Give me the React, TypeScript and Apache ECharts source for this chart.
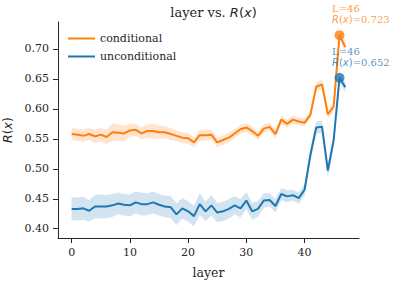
import React, { useEffect, useRef } from "react";
import * as echarts from "echarts";

const layers = [0,1,2,3,4,5,6,7,8,9,10,11,12,13,14,15,16,17,18,19,20,21,22,23,24,25,26,27,28,29,30,31,32,33,34,35,36,37,38,39,40,41,42,43,44,45,46,47];

const condMean = [0.558,0.557,0.555,0.558,0.554,0.557,0.553,0.561,0.560,0.559,0.564,0.565,0.559,0.563,0.563,0.561,0.561,0.558,0.555,0.552,0.551,0.544,0.556,0.556,0.557,0.544,0.548,0.552,0.559,0.566,0.569,0.563,0.555,0.567,0.570,0.558,0.582,0.575,0.582,0.579,0.577,0.590,0.637,0.641,0.591,0.604,0.723,0.703];
const condCi = [0.010,0.010,0.010,0.010,0.011,0.011,0.012,0.014,0.014,0.013,0.011,0.010,0.010,0.011,0.012,0.011,0.010,0.010,0.009,0.009,0.009,0.008,0.009,0.009,0.008,0.008,0.008,0.008,0.007,0.007,0.007,0.007,0.007,0.007,0.007,0.007,0.007,0.007,0.007,0.006,0.006,0.007,0.007,0.008,0.008,0.007,0.006,0.008];

const uncondMean = [0.433,0.433,0.434,0.430,0.437,0.437,0.437,0.439,0.442,0.440,0.439,0.444,0.441,0.441,0.444,0.440,0.437,0.436,0.424,0.434,0.429,0.421,0.441,0.429,0.439,0.427,0.429,0.433,0.439,0.434,0.447,0.429,0.433,0.447,0.448,0.438,0.458,0.454,0.456,0.451,0.465,0.523,0.569,0.570,0.497,0.548,0.652,0.636];
const uncondCi = [0.019,0.019,0.019,0.018,0.019,0.020,0.019,0.019,0.018,0.018,0.018,0.018,0.019,0.018,0.018,0.018,0.018,0.018,0.018,0.017,0.017,0.017,0.018,0.016,0.017,0.016,0.016,0.016,0.015,0.015,0.014,0.014,0.013,0.012,0.011,0.011,0.010,0.010,0.009,0.009,0.009,0.010,0.010,0.010,0.011,0.010,0.008,0.008];

const xTicks = [0, 10, 20, 30, 40];
const yTicks = [0.4, 0.45, 0.5, 0.55, 0.6, 0.65, 0.7];
const yTickLabels = ["0.40", "0.45", "0.50", "0.55", "0.60", "0.65", "0.70"];

const peakLayer = 46;
const condPeak = 0.723;
const uncondPeak = 0.652;

const ORANGE = "#ff7f0e";
const BLUE = "#1f77b4";
const INK = "#262626";
const SERIF = "DejaVu Serif";
const SANS = "DejaVu Sans";

const mathRich = (size: number, color: string) => ({
  s: { fontFamily: SERIF, fontSize: size, color, fontWeight: "normal" },
  i: { fontFamily: SANS, fontStyle: "italic", fontSize: size, color, fontWeight: "normal" },
  r: { fontFamily: SANS, fontSize: size, color, fontWeight: "normal" },
});

function band(name: string, mean: number[], ci: number[], color: string) {
  return {
    type: "custom",
    name,
    silent: true,
    z: 1,
    data: [[layers[0], mean[0]]],
    renderItem: (_p: any, api: any) => {
      const upper = layers.map((l, i) => api.coord([l, mean[i] + ci[i]]));
      const lower = layers.map((l, i) => api.coord([l, mean[i] - ci[i]])).reverse();
      return {
        type: "polygon",
        shape: { points: [...upper, ...lower] },
        style: { fill: color, opacity: 0.2, stroke: color, strokeOpacity: 0.1, lineWidth: 1 },
      };
    },
  };
}

function peak(name: string, value: number, color: string) {
  return {
    type: "scatter",
    name,
    z: 5,
    symbol: "circle",
    symbolSize: 10,
    itemStyle: { color },
    data: [[peakLayer, value]],
    label: {
      show: true,
      position: [-2.5, -27],
      align: "left",
      verticalAlign: "top",
      lineHeight: 11,
      formatter: `{s|L=${peakLayer}}\n{i|R}{r|(}{i|x}{r|)}{s|=${value.toFixed(3)}}`,
      rich: {
        s: { fontFamily: SERIF, fontSize: 10, color, lineHeight: 11 },
        i: { fontFamily: SANS, fontStyle: "italic", fontSize: 10, color, lineHeight: 11 },
        r: { fontFamily: SANS, fontSize: 10, color, lineHeight: 11 },
      },
    },
  };
}

export default function App() {
  const ref = useRef<HTMLDivElement>(null);
  useEffect(() => {
    if (!ref.current) return;
    const chart = echarts.init(ref.current, null, { renderer: "svg" });
    chart.setOption({
      animation: false,
      backgroundColor: "#ffffff",
      textStyle: { fontFamily: SERIF, color: INK },
      title: {
        text: "{s|layer vs. }{i|R}{r|(}{i|x}{r|)}",
        left: 208.5,
        textAlign: "center",
        top: 1,
        textStyle: { fontWeight: "normal", rich: mathRich(13, INK) },
      },
      legend: {
        data: ["conditional", "unconditional"],
        orient: "vertical",
        left: 68,
        top: 33,
        padding: 0,
        itemWidth: 27,
        itemHeight: 2,
        itemGap: 7,
        itemTextGap: 9,
        icon: "rect",
        textStyle: { fontFamily: SERIF, fontSize: 11, color: INK },
      },
      grid: { left: 58, right: 52, top: 22, bottom: 44, containLabel: false, outerBoundsMode: "none" },
      xAxis: {
        type: "value",
        min: -2.35,
        max: 49.35,
        name: "layer",
        nameLocation: "middle",
        nameGap: 28,
        nameTextStyle: { fontFamily: SERIF, fontSize: 12.5, color: INK },
        splitLine: { show: false },
        axisLine: { show: true, onZero: false, lineStyle: { color: INK, width: 1 } },
        axisTick: { show: true, length: 5, lineStyle: { color: INK }, customValues: xTicks },
        axisLabel: { margin: 9, fontFamily: SERIF, fontSize: 11, color: INK, customValues: xTicks },
      },
      yAxis: {
        type: "value",
        min: 0.3845,
        max: 0.745,
        name: "{i|R}{r|(}{i|x}{r|)}",
        nameLocation: "middle",
        nameRotate: 90,
        nameGap: 40,
        nameTextStyle: { rich: mathRich(12.5, INK) },
        splitLine: { show: false },
        axisLine: { show: true, onZero: false, lineStyle: { color: INK, width: 1 } },
        axisTick: { show: true, length: 5, lineStyle: { color: INK }, customValues: yTicks },
        axisLabel: {
          margin: 9,
          fontFamily: SERIF,
          fontSize: 11,
          color: INK,
          customValues: yTicks,
          formatter: (v: number) => yTickLabels[yTicks.findIndex((t) => Math.abs(t - v) < 1e-6)] ?? v.toFixed(2),
        },
      },
      series: [
        band("conditional band", condMean, condCi, ORANGE),
        band("unconditional band", uncondMean, uncondCi, BLUE),
        {
          type: "line",
          name: "conditional",
          z: 3,
          showSymbol: false,
          color: ORANGE,
          lineStyle: { width: 2, color: ORANGE },
          data: layers.map((l, i) => [l, condMean[i]]),
        },
        {
          type: "line",
          name: "unconditional",
          z: 4,
          showSymbol: false,
          color: BLUE,
          lineStyle: { width: 2, color: BLUE },
          data: layers.map((l, i) => [l, uncondMean[i]]),
        },
        peak("conditional peak", condPeak, ORANGE),
        peak("unconditional peak", uncondPeak, BLUE),
      ],
    });
    return () => chart.dispose();
  }, []);
  return (
    <div
      ref={ref}
      style={{ width: 411, height: 282, position: "fixed", left: 0, top: 0, background: "#fff" }}
    />
  );
}
